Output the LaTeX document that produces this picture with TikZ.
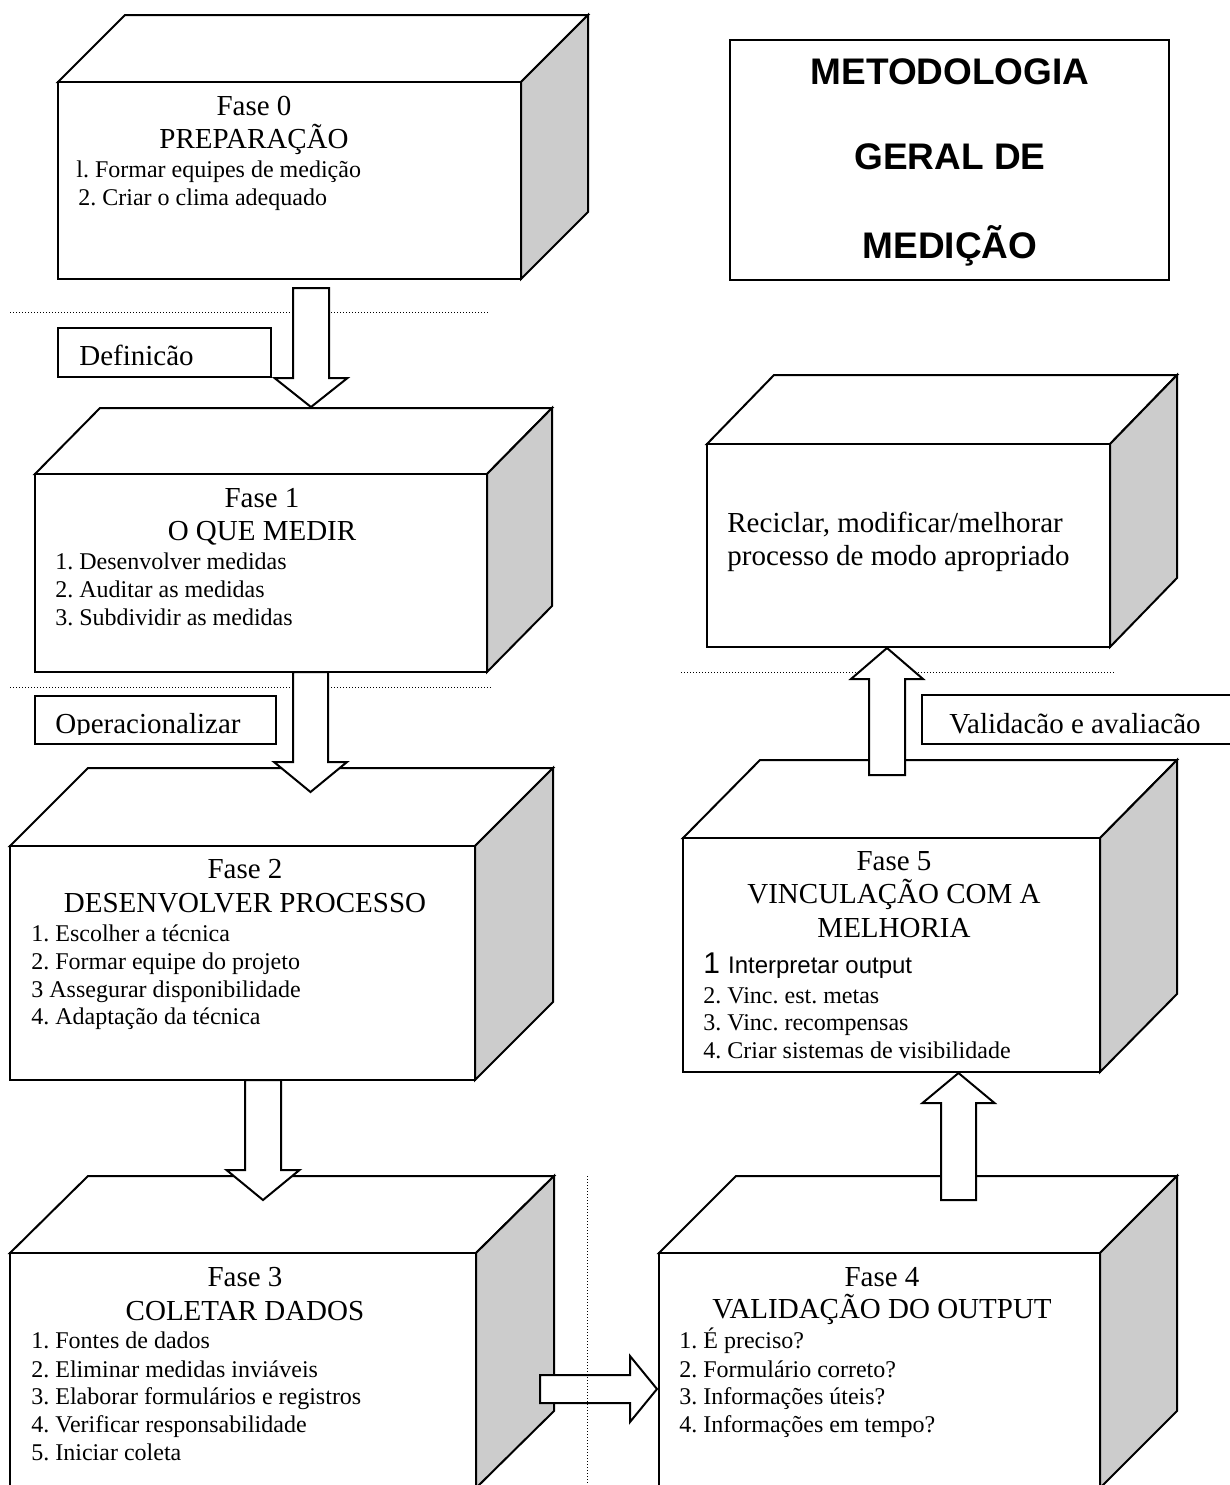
\documentclass[tikz,border=0pt]{standalone}
\usepackage{fontspec}
\setmainfont{Liberation Serif}
\newfontfamily\arialf{Liberation Sans}
\usetikzlibrary{calc,fit}
\definecolor{sidegray}{RGB}{204,204,204}
\frenchspacing
\tikzset{
  cubeedge/.style={draw, line width=1pt, line join=miter},
  frontbox/.style={draw, line width=1pt, fill=white, inner sep=0pt},
  blk/.style={draw, line width=1pt, fill=white, line join=miter},
  dotline/.style={line width=0.5pt, dash pattern=on 0.5pt off 1pt},
  lblbox/.style={draw, line width=1pt, fill=white, inner sep=0pt},
  hdtxt/.style={font=\fontsize{14.5}{16}\selectfont, inner sep=0pt, anchor=base},
  itemtxt/.style={font=\fontsize{12}{14}\selectfont, inner sep=0pt, anchor=base west},
  lbltxt/.style={font=\fontsize{14.5}{16}\selectfont, inner sep=0pt, anchor=base west},
  ttltxt/.style={font=\arialf\bfseries\fontsize{18.5}{20}\selectfont, inner sep=0pt, anchor=base},
}
% name, x1, y1, x2, y2, dx, dy
\newcommand\mkcuboid[7]{%
  \draw[cubeedge, fill=white] (#2,#3) -- ({#2+#6},{#3-#7}) -- ({#4+#6},{#3-#7}) -- (#4,#3) -- cycle;
  \draw[cubeedge, fill=sidegray] (#4,#3) -- ({#4+#6},{#3-#7}) -- ({#4+#6},{#5-#7}) -- (#4,#5) -- cycle;
  \node[frontbox, fit={(#2,#3) (#4,#5)}] (#1) {};
}
% start, tip, half shaft, half head, head length
\newcommand\downblk[5]{\draw[blk] ($(#1)+(-#3,0)$) -- ($(#2)+(-#3,-#5)$) -- ($(#2)+(-#4,-#5)$) -- (#2) -- ($(#2)+(#4,-#5)$) -- ($(#2)+(#3,-#5)$) -- ($(#1)+(#3,0)$) -- cycle;}
\newcommand\upblk[5]{\draw[blk] ($(#1)+(-#3,0)$) -- ($(#2)+(-#3,#5)$) -- ($(#2)+(-#4,#5)$) -- (#2) -- ($(#2)+(#4,#5)$) -- ($(#2)+(#3,#5)$) -- ($(#1)+(#3,0)$) -- cycle;}
\newcommand\rightblk[5]{\draw[blk] ($(#1)+(0,-#3)$) -- ($(#2)+(-#5,-#3)$) -- ($(#2)+(-#5,-#4)$) -- (#2) -- ($(#2)+(-#5,#4)$) -- ($(#2)+(-#5,#3)$) -- ($(#1)+(0,#3)$) -- cycle;}
\begin{document}
\begin{tikzpicture}[x=0.5pt, y=-0.5pt]
\useasboundingbox (0,0) rectangle (1230,1485);
\clip (0,0) rectangle (1230,1485);
\fill[white] (0,0) rectangle (1230,1485);

% dotted separators
\draw[dotline] (10,312) -- (488,312);
\draw[dotline] (10,687) -- (492,687);
\draw[dotline] (681,672) -- (1114,672);

% title box
\node[frontbox, fit={(730,40) (1169,280)}] (ttlbox) {};
\node[ttltxt] (ttl1) at (950,84) {METODOLOGIA};
\node[ttltxt] (ttl2) at (950,169) {GERAL DE};
\node[ttltxt] (ttl3) at (950,258) {MEDIÇÃO};

% boxes
\mkcuboid{b0}{58}{82}{521}{279}{67}{67}
\mkcuboid{b1}{35}{474}{487}{672}{65}{66}
\mkcuboid{b2}{10}{846}{475}{1080}{78}{78}
\mkcuboid{b3}{10}{1253}{476}{1488}{78}{77}
\mkcuboid{b4}{659}{1253}{1100}{1488}{77}{77}
\mkcuboid{b5}{683}{838}{1100}{1072}{77}{78}
\mkcuboid{br}{707}{444}{1110}{647}{67}{69}

% label boxes
\node[lblbox, fit={(58,328) (271,377)}] (ldef) {};
\node[lbltxt] (tdef) at (79,365) {Definicão};
\node[lblbox, fit={(35,696) (276,744)}] (lop) {};
\begin{scope}
  \clip (35,696) rectangle (276,734);
  \node[lbltxt] (top) at (55,733) {Operacionalizar};
\end{scope}
\node[lblbox, fit={(922,695) (1240,744)}] (lval) {};
\node[lbltxt] (tval) at (949,733) {Validacão e avaliacão};

% box texts
\node[hdtxt] (t0h1) at (254,115) {Fase 0};
\node[hdtxt] (t0h2) at (254,148) {PREPARAÇÃO};
\node[itemtxt] (t0i1) at (76,177) {l. Formar equipes de medição};
\node[itemtxt] (t0i2) at (78,205) {2. Criar o clima adequado};

\node[hdtxt] (t1h1) at (262,507) {Fase 1};
\node[hdtxt] (t1h2) at (262,540) {O QUE MEDIR};
\node[itemtxt] (t1i1) at (55,569) {1. Desenvolver medidas};
\node[itemtxt] (t1i2) at (55,597) {2. Auditar as medidas};
\node[itemtxt] (t1i3) at (55,625) {3. Subdividir as medidas};

\node[hdtxt] (t2h1) at (245,878) {Fase 2};
\node[hdtxt] (t2h2) at (245,912) {DESENVOLVER PROCESSO};
\node[itemtxt] (t2i1) at (31,941) {1. Escolher a técnica};
\node[itemtxt] (t2i2) at (31,969) {2. Formar equipe do projeto};
\node[itemtxt] (t2i3) at (31,997) {3 Assegurar disponibilidade};
\node[itemtxt] (t2i4) at (31,1024) {4. Adaptação da técnica};

\node[hdtxt] (t3h1) at (245,1286) {Fase 3};
\node[hdtxt] (t3h2) at (245,1320) {COLETAR DADOS};
\node[itemtxt] (t3i1) at (31,1348) {1. Fontes de dados};
\node[itemtxt] (t3i2) at (31,1377) {2. Eliminar medidas inviáveis};
\node[itemtxt] (t3i3) at (31,1404) {3. Elaborar formulários e registros};
\node[itemtxt] (t3i4) at (31,1432) {4. Verificar responsabilidade};
\node[itemtxt] (t3i5) at (31,1460) {5. Iniciar coleta};

\node[hdtxt] (t4h1) at (882,1286) {Fase 4};
\node[hdtxt] (t4h2) at (882,1318) {VALIDAÇÃO DO OUTPUT};
\node[itemtxt] (t4i1) at (679,1348) {1. É preciso?};
\node[itemtxt] (t4i2) at (679,1377) {2. Formulário correto?};
\node[itemtxt] (t4i3) at (679,1404) {3. Informações úteis?};
\node[itemtxt] (t4i4) at (679,1432) {4. Informações em tempo?};

\node[hdtxt] (t5h1) at (894,870) {Fase 5};
\node[hdtxt] (t5h2) at (894,903) {VINCULAÇÃO COM A};
\node[hdtxt] (t5h3) at (894,937) {MELHORIA};
\node[itemtxt] (t5i1) at (703,973) {{\arialf\fontsize{15}{16}\selectfont 1}\hspace{4pt}{\arialf Interpretar output}};
\node[itemtxt] (t5i2) at (703,1003) {2. Vinc. est. metas};
\node[itemtxt] (t5i3) at (703,1030) {3. Vinc. recompensas};
\node[itemtxt] (t5i4) at (703,1058) {4. Criar sistemas de visibilidade};

\node[lbltxt] (tr1) at (727,532) {Reciclar, modificar/melhorar};
\node[lbltxt] (tr2) at (727,565) {processo de modo apropriado};

% block arrows
\coordinate (a01s) at (311,288);   \coordinate (a01t) at (311,407);
\coordinate (a12s) at (310.5,672); \coordinate (a12t) at (310.5,792);
\coordinate (a23s) at (263,1080);  \coordinate (a23t) at (263,1200);
\coordinate (a34s) at (540,1389);  \coordinate (a34t) at (657,1389);
\coordinate (a45s) at (958.5,1200);\coordinate (a45t) at (958.5,1073);
\coordinate (a5rs) at (887,775);   \coordinate (a5rt) at (887,648);
\downblk{a01s}{a01t}{18}{36.5}{29}
\downblk{a12s}{a12t}{17.5}{36.5}{30}
\downblk{a23s}{a23t}{18}{36.5}{30}
\rightblk{a34s}{a34t}{14}{33}{27}
\upblk{a45s}{a45t}{17.5}{36}{30}
\upblk{a5rs}{a5rt}{18}{36}{31}

\draw[dotline] (587,1176) -- (587,1485);
\end{tikzpicture}
\end{document}
